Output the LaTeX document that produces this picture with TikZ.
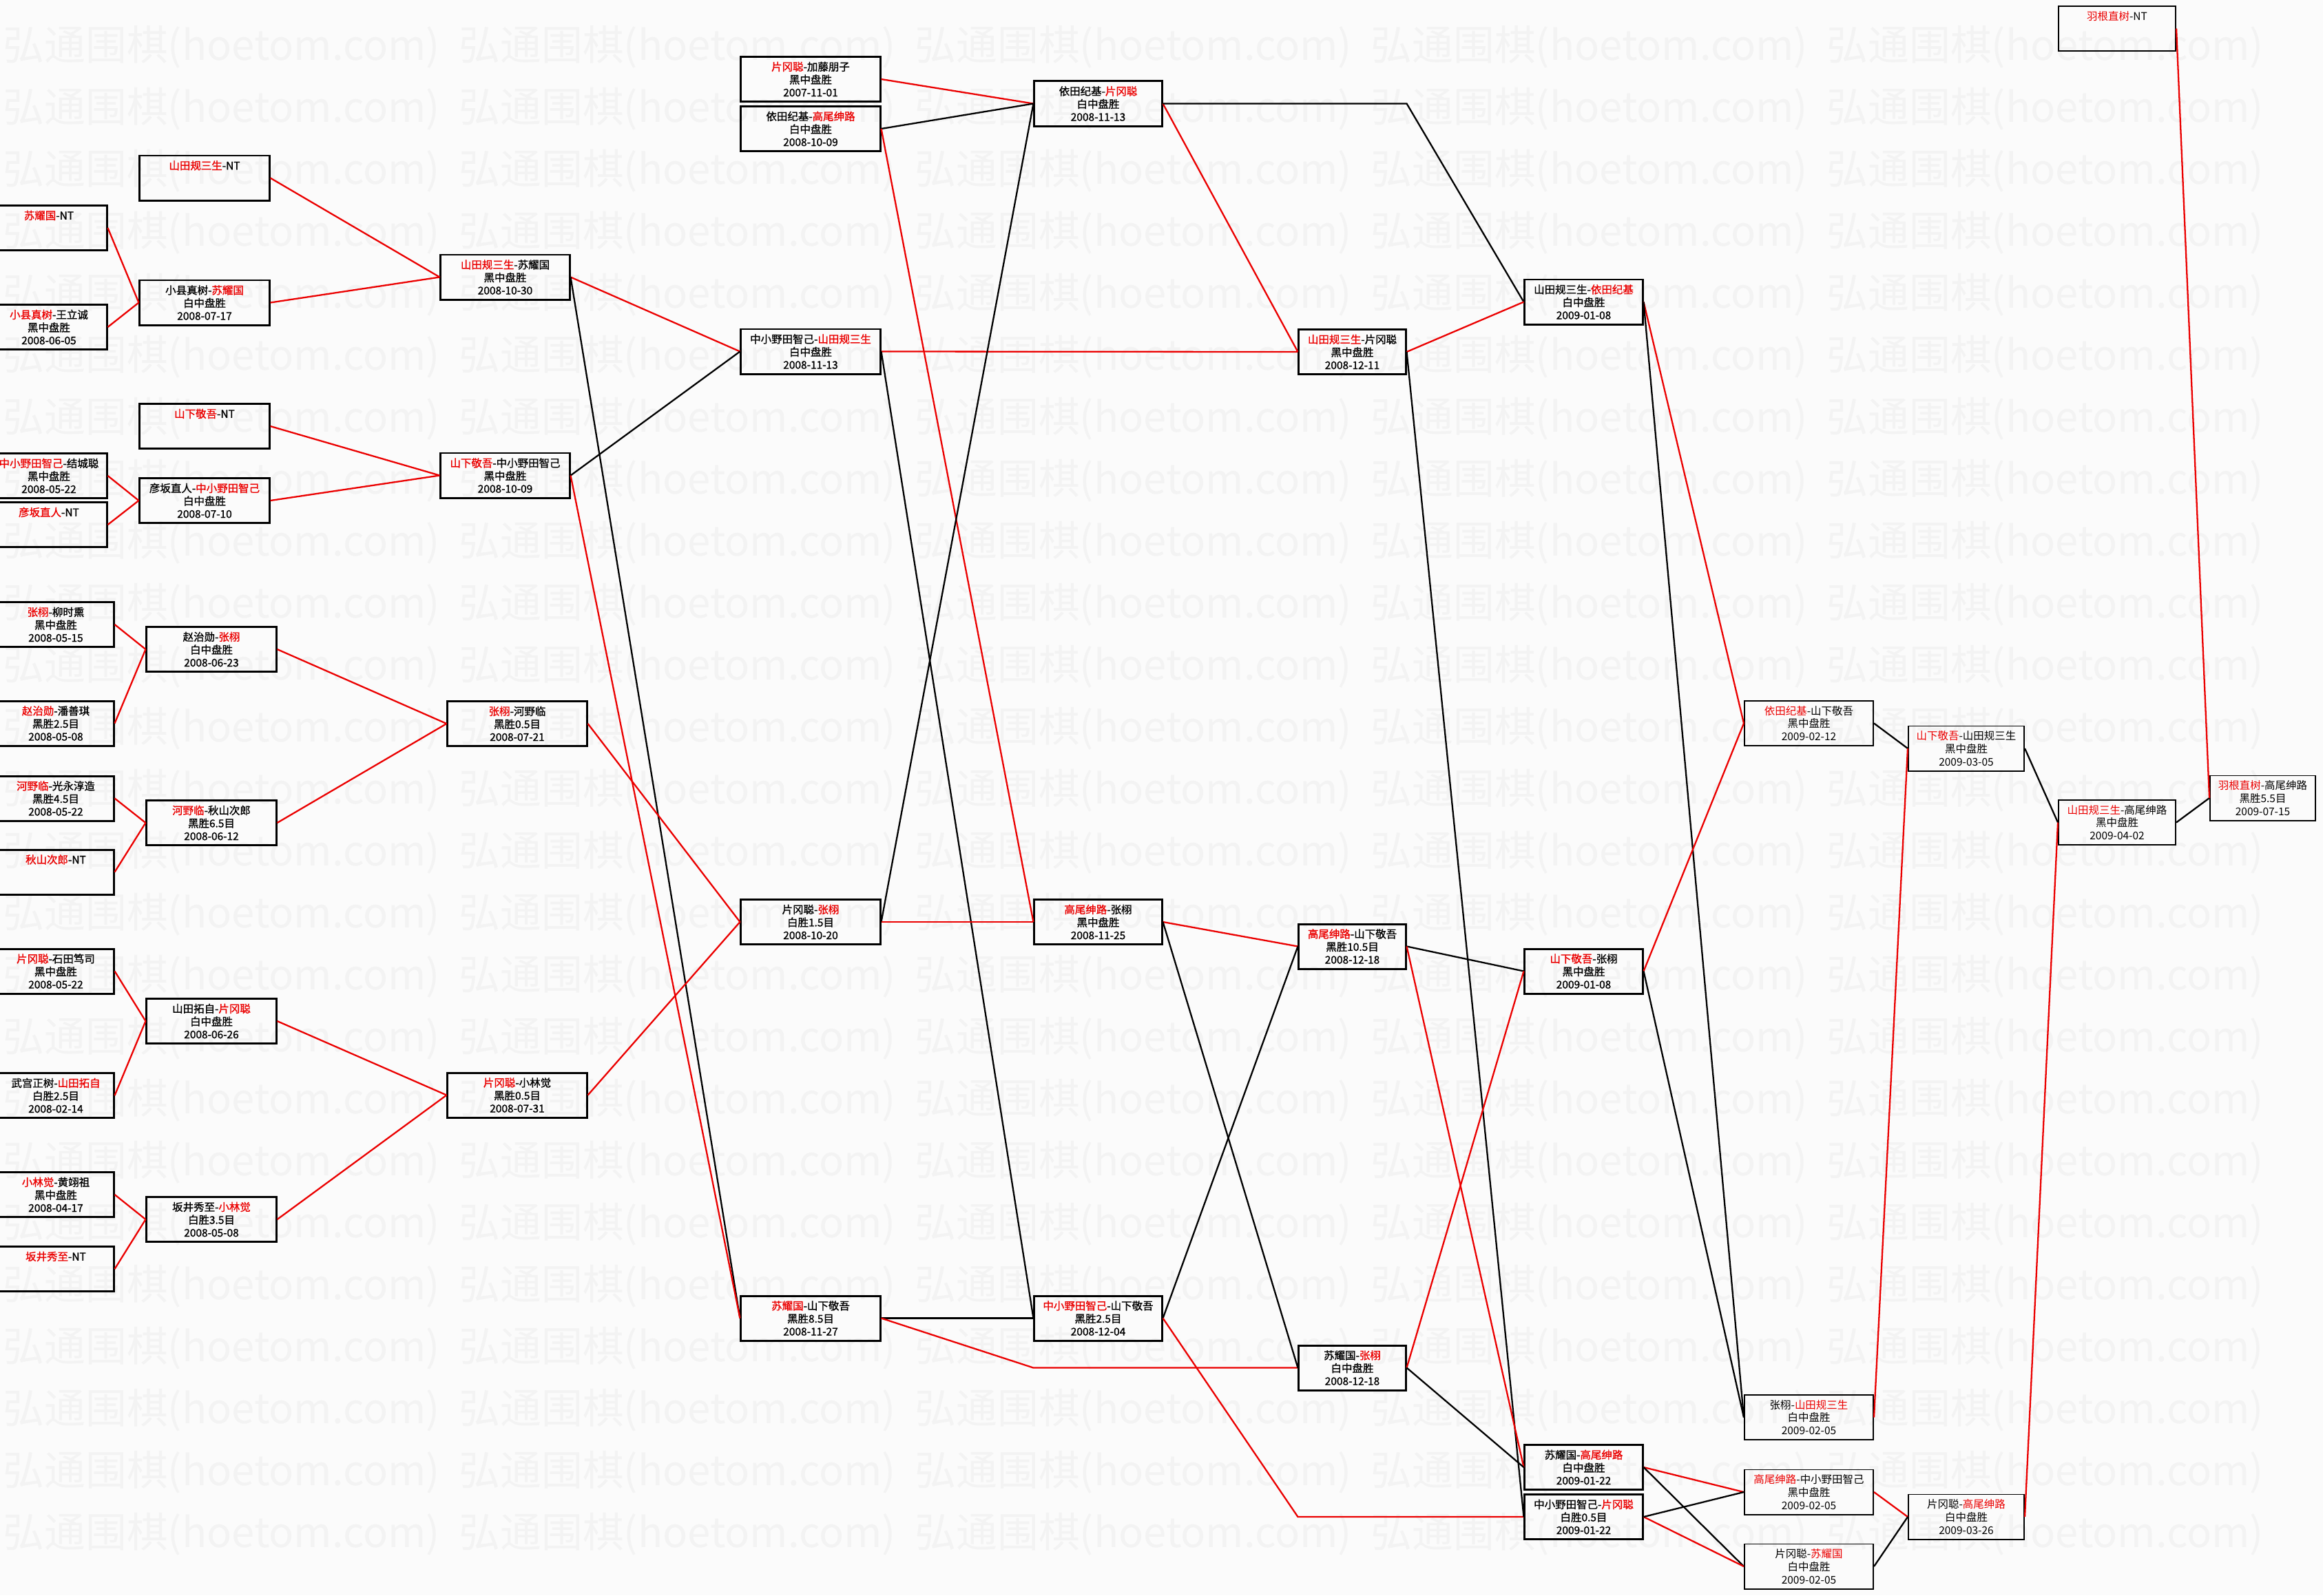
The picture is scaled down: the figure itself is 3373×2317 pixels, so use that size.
\documentclass[tikz,border=0pt]{standalone}
\usepackage{fontspec}
\setmainfont{Noto Sans CJK SC}[AutoFakeBold=1.2]
\usepackage{xcolor}
\definecolor{wr}{RGB}{235,0,0}
\definecolor{bgc}{RGB}{251,251,251}
\definecolor{wmc}{RGB}{243,243,243}
\usepackage{tikz}
\usetikzlibrary{calc}
\newcommand{\rn}[1]{\textcolor{wr}{#1}}
\newcommand{\ntpad}{\\\phantom{0}\\\phantom{0}}

\begin{document}
\begin{tikzpicture}[
  x=0.01cm,y=-0.01cm,
  gbox/.style={rectangle,draw,line width=0.85pt,minimum width=#1,minimum height=0.65cm,inner sep=0pt,align=center,font=\fontsize{4.4}{5.3}\selectfont\bfseries},
  lbox/.style={gbox=#1,line width=0.55pt,font=\fontsize{4.4}{5.3}\selectfont},
  wtext/.style={text=wmc,inner sep=0pt,anchor=west,font=\fontsize{17}{17}\selectfont},
  wlink/.style={draw=wr,line width=0.65pt},
  llink/.style={draw=black,line width=0.65pt}
]
  \path[use as bounding box,fill=bgc] (0,0) rectangle (3373,2317);
  \foreach \r in {0,...,24}
    \foreach \c in {0,...,4}
      \node[wtext] (wm\r-\c) at (4+662*\c,68+90*\r) {弘通围棋(hoetom.com)};

  \node[gbox=1.68cm] (c0a) at (71,331) {\rn{苏耀国}-NT\ntpad};
  \node[gbox=1.68cm] (c0b) at (71,475) {\rn{小县真树}-王立诚\\黑中盘胜\\2008-06-05};
  \node[gbox=1.68cm] (c0c) at (71,691) {\rn{中小野田智己}-结城聪\\黑中盘胜\\2008-05-22};
  \node[gbox=1.68cm] (c0d) at (71,762) {\rn{彦坂直人}-NT\ntpad};
  \node[gbox=1.68cm] (c0e) at (81,907) {\rn{张栩}-柳时熏\\黑中盘胜\\2008-05-15};
  \node[gbox=1.68cm] (c0f) at (81,1050.5) {\rn{赵治勋}-潘善琪\\黑胜2.5目\\2008-05-08};
  \node[gbox=1.68cm] (c0g) at (81,1159.5) {\rn{河野临}-光永淳造\\黑胜4.5目\\2008-05-22};
  \node[gbox=1.68cm] (c0h) at (81,1266.5) {\rn{秋山次郎}-NT\ntpad};
  \node[gbox=1.68cm] (c0i) at (81,1410.5) {\rn{片冈聪}-石田笃司\\黑中盘胜\\2008-05-22};
  \node[gbox=1.68cm] (c0j) at (81,1591) {武宫正树-\rn{山田拓自}\\白胜2.5目\\2008-02-14};
  \node[gbox=1.68cm] (c0k) at (81,1735) {\rn{小林觉}-黄翊祖\\黑中盘胜\\2008-04-17};
  \node[gbox=1.68cm] (c0l) at (81,1843) {\rn{坂井秀至}-NT\ntpad};

  \node[gbox=1.88cm] (c1a) at (297,258.5) {\rn{山田规三生}-NT\ntpad};
  \node[gbox=1.88cm] (c1b) at (297,439.5) {小县真树-\rn{苏耀国}\\白中盘胜\\2008-07-17};
  \node[gbox=1.88cm] (c1c) at (297,619) {\rn{山下敬吾}-NT\ntpad};
  \node[gbox=1.88cm] (c1d) at (297,727) {彦坂直人-\rn{中小野田智己}\\白中盘胜\\2008-07-10};
  \node[gbox=1.88cm] (c1e) at (307,943) {赵治勋-\rn{张栩}\\白中盘胜\\2008-06-23};
  \node[gbox=1.88cm] (c1f) at (307,1195) {\rn{河野临}-秋山次郎\\黑胜6.5目\\2008-06-12};
  \node[gbox=1.88cm] (c1g) at (307,1483) {山田拓自-\rn{片冈聪}\\白中盘胜\\2008-06-26};
  \node[gbox=1.88cm] (c1h) at (307,1771) {坂井秀至-\rn{小林觉}\\白胜3.5目\\2008-05-08};

  \node[gbox=1.87cm] (c2a) at (733.5,402.5) {\rn{山田规三生}-苏耀国\\黑中盘胜\\2008-10-30};
  \node[gbox=1.87cm] (c2b) at (733.5,690.5) {\rn{山下敬吾}-中小野田智己\\黑中盘胜\\2008-10-09};
  \node[gbox=2.02cm] (c2c) at (751,1051) {\rn{张栩}-河野临\\黑胜0.5目\\2008-07-21};
  \node[gbox=2.02cm] (c2d) at (751,1590.5) {\rn{片冈聪}-小林觉\\黑胜0.5目\\2008-07-31};

  \node[gbox=2.02cm] (c3a) at (1177,115) {\rn{片冈聪}-加藤朋子\\黑中盘胜\\2007-11-01};
  \node[gbox=2.02cm] (c3b) at (1177,187) {依田纪基-\rn{高尾绅路}\\白中盘胜\\2008-10-09};
  \node[gbox=2.02cm] (c3c) at (1177,510.5) {中小野田智己-\rn{山田规三生}\\白中盘胜\\2008-11-13};
  \node[gbox=2.02cm] (c3d) at (1177,1339) {片冈聪-\rn{张栩}\\白胜1.5目\\2008-10-20};
  \node[gbox=2.02cm] (c3e) at (1177,1914.5) {\rn{苏耀国}-山下敬吾\\黑胜8.5目\\2008-11-27};

  \node[gbox=1.85cm] (c4a) at (1594.5,150.5) {依田纪基-\rn{片冈聪}\\白中盘胜\\2008-11-13};
  \node[gbox=1.85cm] (c4b) at (1594.5,1339) {\rn{高尾绅路}-张栩\\黑中盘胜\\2008-11-25};
  \node[gbox=1.85cm] (c4c) at (1594.5,1914.5) {\rn{中小野田智己}-山下敬吾\\黑胜2.5目\\2008-12-04};

  \node[gbox=1.55cm] (c5a) at (1963.5,511) {\rn{山田规三生}-片冈聪\\黑中盘胜\\2008-12-11};
  \node[gbox=1.55cm] (c5b) at (1963.5,1374.5) {\rn{高尾绅路}-山下敬吾\\黑胜10.5目\\2008-12-18};
  \node[gbox=1.55cm] (c5c) at (1963.5,1986.5) {苏耀国-\rn{张栩}\\白中盘胜\\2008-12-18};

  \node[gbox=1.71cm] (c6a) at (2299.5,438.5) {山田规三生-\rn{依田纪基}\\白中盘胜\\2009-01-08};
  \node[gbox=1.71cm] (c6b) at (2299.5,1410.5) {\rn{山下敬吾}-张栩\\黑中盘胜\\2009-01-08};
  \node[gbox=1.71cm] (c6c) at (2299.5,2131) {苏耀国-\rn{高尾绅路}\\白中盘胜\\2009-01-22};
  \node[gbox=1.71cm] (c6d) at (2299.5,2203) {中小野田智己-\rn{片冈聪}\\白胜0.5目\\2009-01-22};

  \node[lbox=1.87cm] (c7a) at (2626.5,1050.5) {\rn{依田纪基}-山下敬吾\\黑中盘胜\\2009-02-12};
  \node[lbox=1.87cm] (c7b) at (2626.5,2058.5) {张栩-\rn{山田规三生}\\白中盘胜\\2009-02-05};
  \node[lbox=1.87cm] (c7c) at (2626.5,2167) {\rn{高尾绅路}-中小野田智己\\黑中盘胜\\2009-02-05};
  \node[lbox=1.87cm] (c7d) at (2626.5,2275) {片冈聪-\rn{苏耀国}\\白中盘胜\\2009-02-05};

  \node[lbox=1.68cm] (c8a) at (2855,1087) {\rn{山下敬吾}-山田规三生\\黑中盘胜\\2009-03-05};
  \node[lbox=1.68cm] (c8b) at (2855,2203) {片冈聪-\rn{高尾绅路}\\白中盘胜\\2009-03-26};

  \node[lbox=1.70cm] (c9a) at (3074,41.5) {\rn{羽根直树}-NT\ntpad};
  \node[lbox=1.70cm] (c9b) at (3074,1194.5) {\rn{山田规三生}-高尾绅路\\黑中盘胜\\2009-04-02};
  \node[lbox=1.53cm] (c10) at (3285.5,1159) {\rn{羽根直树}-高尾绅路\\黑胜5.5目\\2009-07-15};

  \draw[wlink] (c0a.east) -- (c1b.west);
  \draw[wlink] (c0b.east) -- (c1b.west);
  \draw[wlink] (c0c.east) -- (c1d.west);
  \draw[wlink] (c0d.east) -- (c1d.west);
  \draw[wlink] (c0e.east) -- (c1e.west);
  \draw[wlink] (c0f.east) -- (c1e.west);
  \draw[wlink] (c0g.east) -- (c1f.west);
  \draw[wlink] (c0h.east) -- (c1f.west);
  \draw[wlink] (c0i.east) -- (c1g.west);
  \draw[wlink] (c0j.east) -- (c1g.west);
  \draw[wlink] (c0k.east) -- (c1h.west);
  \draw[wlink] (c0l.east) -- (c1h.west);

  \draw[wlink] (c1a.east) -- (c2a.west);
  \draw[wlink] (c1b.east) -- (c2a.west);
  \draw[wlink] (c1c.east) -- (c2b.west);
  \draw[wlink] (c1d.east) -- (c2b.west);
  \draw[wlink] (c1e.east) -- (c2c.west);
  \draw[wlink] (c1f.east) -- (c2c.west);
  \draw[wlink] (c1g.east) -- (c2d.west);
  \draw[wlink] (c1h.east) -- (c2d.west);

  \draw[wlink] (c2a.east) -- (c3c.west);
  \draw[llink] (c2a.east) -- (c3e.west);
  \draw[llink] (c2b.east) -- (c3c.west);
  \draw[wlink] (c2b.east) -- (c3e.west);
  \draw[wlink] (c2c.east) -- (c3d.west);
  \draw[wlink] (c2d.east) -- (c3d.west);

  \draw[wlink] (c3a.east) -- (c4a.west);
  \draw[llink] (c3b.east) -- (c4a.west);
  \draw[wlink] (c3b.east) -- (c4b.west);
  \draw[wlink] (c3c.east) -- (c5a.west);
  \draw[llink] (c3c.east) -- (c4c.west);
  \draw[llink] (c3d.east) -- (c4a.west);
  \draw[wlink] (c3d.east) -- (c4b.west);
  \draw[llink] (c3e.east) -- (c4c.west);
  \draw[wlink] (c3e.east) -- (c4c.west |- c5c.west) -- (c5c.west);

  \draw[wlink] (c4a.east) -- (c5a.west);
  \draw[llink] (c4a.east) -- (c5a.east |- c4a.east) -- (c6a.west);
  \draw[wlink] (c4b.east) -- (c5b.west);
  \draw[llink] (c4b.east) -- (c5c.west);
  \draw[llink] (c4c.east) -- (c5b.west);
  \draw[wlink] (c4c.east) -- (c5c.west |- c6d.west) -- (c6d.west);

  \draw[wlink] (c5a.east) -- (c6a.west);
  \draw[llink] (c5a.east) -- (c6d.west);
  \draw[llink] (c5b.east) -- (c6b.west);
  \draw[wlink] (c5b.east) -- (c6c.west);
  \draw[wlink] (c5c.east) -- (c6b.west);
  \draw[llink] (c5c.east) -- (c6c.west);

  \draw[wlink] (c6a.east) -- (c7a.west);
  \draw[llink] (c6a.east) -- (c7b.west);
  \draw[wlink] (c6b.east) -- (c7a.west);
  \draw[llink] (c6b.east) -- (c7b.west);
  \draw[wlink] (c6c.east) -- (c7c.west);
  \draw[llink] (c6c.east) -- (c7d.west);
  \draw[wlink] (c6d.east) -- (c7d.west);
  \draw[llink] (c6d.east) -- (c7c.west);

  \draw[llink] (c7a.east) -- (c8a.west);
  \draw[wlink] (c7b.east) -- (c8a.west);
  \draw[wlink] (c7c.east) -- (c8b.west);
  \draw[llink] (c7d.east) -- (c8b.west);

  \draw[llink] (c8a.east) -- (c9b.west);
  \draw[wlink] (c8b.east) -- (c9b.west);
  \draw[llink] (c9b.east) -- (c10.west);
  \draw[wlink] (c9a.east) -- (c10.west);
\end{tikzpicture}
\end{document}
